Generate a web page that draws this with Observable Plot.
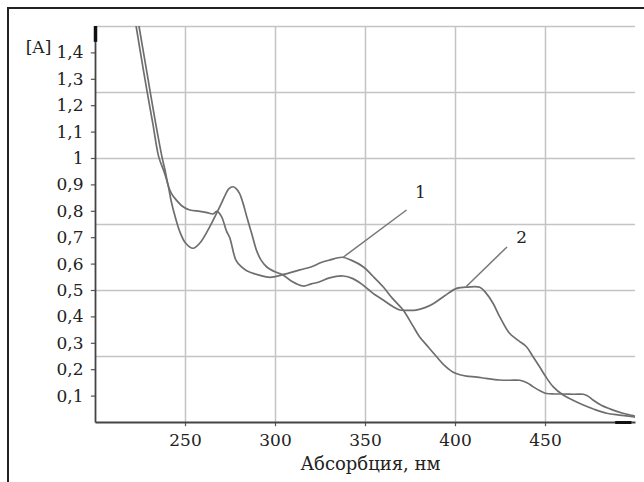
<!DOCTYPE html>
<html>
<head>
<meta charset="utf-8">
<script src="https://cdn.jsdelivr.net/npm/d3@7"></script>
<script src="https://cdn.jsdelivr.net/npm/@observablehq/plot@0.6"></script>
<style>
  html, body { margin: 0; padding: 0; background: #fff; }
  #wrap { position: relative; width: 644px; height: 482px; overflow: hidden; }
  #frame { position: absolute; left: 7px; top: 7px; width: 700px; height: 600px;
           border-top: 2px solid #222; border-left: 2px solid #222; box-sizing: border-box; }
  #chart { position: absolute; left: 0; top: 0; }
</style>
</head>
<body>
<div id="wrap"><div id="frame"></div><div id="chart"></div></div>
<script>
// Curve 1: wavelength (nm) and absorbance
const wl1 = [224.2, 227.2, 230.2, 233.5, 236.9, 238.8, 240.3, 242, 244, 248.7, 252.4, 258, 262, 265.3, 267.5, 270, 272.8, 274.6, 278, 281, 284, 291, 297, 304, 313.5, 320, 325, 330, 337, 342, 348.7, 354, 359.8, 365, 370.9, 376, 380, 385, 389.4, 394, 398.7, 403, 406, 412, 417, 424.6, 430, 435.7, 440, 443, 447, 450.5, 455, 459.8, 466, 471, 474, 476.4, 481, 487.6, 493, 498.7, 500];
const abs1 = [1.5, 1.38, 1.26, 1.13, 1.007, 0.95, 0.90, 0.87, 0.85, 0.817, 0.805, 0.80, 0.795, 0.79, 0.80, 0.78, 0.725, 0.70, 0.615, 0.59, 0.575, 0.558, 0.55, 0.56, 0.578, 0.59, 0.605, 0.615, 0.626, 0.615, 0.59, 0.555, 0.514, 0.47, 0.426, 0.37, 0.325, 0.285, 0.25, 0.215, 0.19, 0.18, 0.176, 0.172, 0.167, 0.161, 0.16, 0.16, 0.15, 0.136, 0.12, 0.11, 0.108, 0.108, 0.107, 0.107, 0.098, 0.085, 0.065, 0.047, 0.035, 0.026, 0.022];

// Curve 2
const wl2 = [222.6, 225.5, 228.5, 231.9, 235.1, 238.1, 240.3, 242, 244, 247, 250, 254.2, 258, 263.5, 269, 272, 274, 276.4, 278, 280, 282, 284, 287, 289.4, 292, 295, 300, 304, 309, 315.3, 320, 324.6, 330, 337.6, 343, 348.7, 354, 359.8, 365, 369, 374, 378, 383, 387.6, 394, 400.6, 407, 413.5, 417, 421, 424.6, 430, 435, 439.4, 443, 446.8, 450, 454.2, 459.8, 465, 471, 477, 484, 491, 498.7, 500];
const abs2 = [1.5, 1.38, 1.26, 1.13, 1.007, 0.95, 0.90, 0.84, 0.786, 0.72, 0.68, 0.66, 0.68, 0.742, 0.817, 0.86, 0.885, 0.893, 0.887, 0.868, 0.83, 0.78, 0.71, 0.653, 0.615, 0.59, 0.57, 0.56, 0.535, 0.517, 0.525, 0.533, 0.548, 0.555, 0.545, 0.52, 0.49, 0.464, 0.44, 0.426, 0.425, 0.426, 0.435, 0.45, 0.48, 0.508, 0.513, 0.512, 0.49, 0.45, 0.40, 0.338, 0.31, 0.287, 0.25, 0.21, 0.175, 0.136, 0.104, 0.085, 0.066, 0.05, 0.035, 0.028, 0.022, 0.02];

// Axis ticks and grid
const xTicks = [250, 300, 350, 400, 450];
const yTicks = [0.1, 0.2, 0.3, 0.4, 0.5, 0.6, 0.7, 0.8, 0.9, 1, 1.1, 1.2, 1.3, 1.4];
const yGrid = [0.25, 0.5, 0.75, 1, 1.25, 1.5];
const xDomain = [200, 500];
const yDomain = [0, 1.5];

// Curve labels and leader lines
const labelText = ["1", "2"];
const labelX = [380.5, 436.7];
const labelY = [0.87, 0.70];
const leadX1 = [337.6, 406];
const leadY1 = [0.626, 0.515];
const leadX2 = [372.8, 428.6];
const leadY2 = [0.805, 0.665];

const xLabel = "Абсорбция, нм";
const yLabel = "[A]";

const series1 = wl1.map((w, i) => ({w, a: abs1[i]}));
const series2 = wl2.map((w, i) => ({w, a: abs2[i]}));
const leaders = labelText.map((t, i) => ({t, x1: leadX1[i], y1: leadY1[i], x2: leadX2[i], y2: leadY2[i], lx: labelX[i], ly: labelY[i]}));
const axisLines = [
  {x1: xDomain[0], x2: xDomain[0], y1: yDomain[0], y2: yDomain[1]},
  {x1: xDomain[0], x2: xDomain[1], y1: yDomain[0], y2: yDomain[0]}
];

const fmt = d => String(d).replace(".", ",");
const font = "DejaVu Serif";
// tick lengths expressed in data units (about 4 px)
const xTickLen = 0.016;
const yTickLen = 2.3;

const chart = Plot.plot({
  width: 644,
  height: 482,
  marginLeft: 95,
  marginRight: 9,
  marginTop: 26,
  marginBottom: 60,
  style: {fontFamily: font, fontSize: "17px", color: "#222", background: "transparent"},
  x: {domain: xDomain, axis: null},
  y: {domain: yDomain, axis: null},
  marks: [
    Plot.ruleX(xTicks, {y1: yDomain[0], y2: yDomain[1], stroke: "#c4c4c4", strokeWidth: 1.5}),
    Plot.ruleY(yGrid, {x1: xDomain[0], x2: xDomain[1], stroke: "#c4c4c4", strokeWidth: 1.5}),
    Plot.ruleX(xTicks, {y1: yDomain[0], y2: yDomain[0] - xTickLen, stroke: "#555", strokeWidth: 1.2}),
    Plot.ruleY(yTicks, {x1: xDomain[0], x2: xDomain[0] - yTickLen, stroke: "#555", strokeWidth: 1.2}),
    Plot.text(xTicks, {x: d => d, y: () => yDomain[0], dy: 18, text: d => String(d), fontSize: 17, fill: "#222"}),
    Plot.text(yTicks, {x: () => xDomain[0], y: d => d, dx: -12, textAnchor: "end", text: fmt, fontSize: 17, fill: "#222"}),
    Plot.link(axisLines, {x1: "x1", x2: "x2", y1: "y1", y2: "y2", stroke: "#444", strokeWidth: 1.8}),
    Plot.ruleX([xDomain[0]], {y1: 1.44, y2: 1.5, stroke: "#111", strokeWidth: 3.5}),
    Plot.ruleY([yDomain[0]], {x1: 489, x2: 498, stroke: "#111", strokeWidth: 3}),
    Plot.line(series1, {x: "w", y: "a", stroke: "#6e6e6e", strokeWidth: 1.7, curve: "catmull-rom", clip: true}),
    Plot.line(series2, {x: "w", y: "a", stroke: "#6e6e6e", strokeWidth: 1.7, curve: "catmull-rom", clip: true}),
    Plot.link(leaders, {x1: "x1", y1: "y1", x2: "x2", y2: "y2", stroke: "#777", strokeWidth: 1.5}),
    Plot.text(leaders, {x: "lx", y: "ly", text: "t", fontSize: 17, fill: "#222"}),
    Plot.text([xLabel], {frameAnchor: "bottom", textAnchor: "middle", dx: 5, dy: 47, fontSize: 18, fill: "#222"}),
    Plot.text([yLabel], {frameAnchor: "top-left", textAnchor: "middle", dx: -57, dy: 14, fontSize: 17, fill: "#222"})
  ]
});
document.getElementById("chart").appendChild(chart);
</script>
</body>
</html>
